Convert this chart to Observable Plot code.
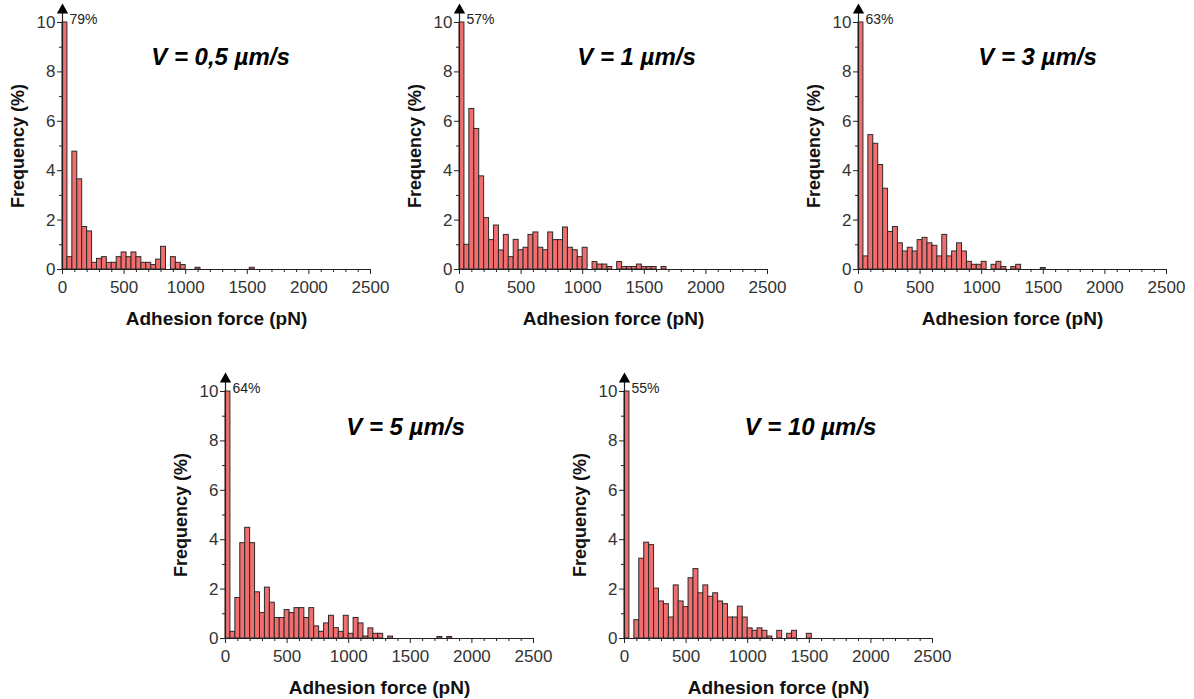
<!DOCTYPE html>
<html>
<head>
<meta charset="utf-8">
<script src="https://cdn.jsdelivr.net/npm/d3@7"></script>
<script src="https://cdn.jsdelivr.net/npm/@observablehq/plot@0.6"></script>
<style>
  html, body { margin: 0; padding: 0; background: #fff; }
  #chart { position: relative; width: 1194px; height: 699px; background: #fff; font-family: "Liberation Sans", Arial, sans-serif; }
  #chart svg { position: absolute; overflow: visible; }
</style>
</head>
<body>
<div id="chart"></div>
<script>
// ---- data: frequency (%) per 40 pN bin, starting at 0 pN ----
const binWidth = 40;
const speeds = ["0,5", "1", "3", "5", "10"];
const freqV05 = [79, 0.5, 4.77, 3.65, 1.72, 1.54, 0.27, 0.43, 0.5, 0.27, 0.27, 0.5, 0.69, 0.5, 0.69, 0.5, 0.27, 0.27, 0.18, 0.4, 0.92, 0, 0.5, 0.27, 0.18, 0, 0, 0.07, 0, 0, 0, 0, 0, 0, 0, 0, 0, 0, 0.07];
const freqV1 = [57, 1.0, 6.5, 5.69, 3.77, 2.08, 1.19, 1.78, 0.77, 1.4, 0.5, 1.2, 0.78, 0.88, 1.4, 1.5, 0.88, 0.78, 1.5, 1.19, 1.19, 1.7, 0.88, 0.78, 0.5, 0.88, 0, 0.3, 0.2, 0.2, 0.1, 0, 0.3, 0.1, 0.1, 0.1, 0.2, 0.1, 0.1, 0.1, 0, 0.1];
const freqV3 = [63, 0.53, 5.44, 5.09, 4.23, 3.27, 1.52, 1.72, 1.06, 0.73, 0.88, 0.73, 1.19, 1.28, 1.06, 0.96, 0.53, 1.4, 0.53, 0.73, 1.06, 0.73, 0.31, 0.19, 0.19, 0.31, 0, 0.19, 0.31, 0.1, 0, 0.1, 0.19, 0, 0, 0, 0, 0.06];
const freqV5 = [64, 0.27, 1.64, 3.86, 4.48, 3.86, 1.87, 1.03, 2.06, 1.45, 0.83, 0.83, 1.15, 1.03, 1.23, 1.23, 0.83, 1.23, 0.49, 0.27, 0.61, 0.92, 0.42, 0.27, 0.92, 0.19, 0.83, 0.61, 0.08, 0.41, 0.19, 0.19, 0, 0.08, 0, 0, 0, 0, 0, 0, 0, 0, 0, 0.06, 0, 0.06];
const freqV10 = [55, 0, 0.74, 3.23, 3.88, 3.78, 2.02, 1.5, 1.39, 0.85, 2.15, 1.5, 1.27, 2.44, 2.81, 1.83, 2.15, 1.69, 1.83, 1.5, 1.39, 0.85, 0.85, 1.29, 0.85, 0.41, 0.31, 0.41, 0.31, 0.08, 0, 0.31, 0, 0.19, 0.31, 0, 0, 0.19];
const xTicksMajor = [0, 500, 1000, 1500, 2000, 2500];
const yTicksMajor = [0, 2, 4, 6, 8, 10];
const xLabel = "Adhesion force (pN)";
const yLabel = "Frequency (%)";

// ---- layout ----
const yMax = 10;
const panels = [
  {speed: speeds[0], freq: freqV05, left: 0,   top: 0,   tdx: 158, tdy: 35},
  {speed: speeds[1], freq: freqV1,  left: 397, top: 0,   tdx: 177, tdy: 35},
  {speed: speeds[2], freq: freqV3,  left: 796, top: 0,   tdx: 179, tdy: 35},
  {speed: speeds[3], freq: freqV5,  left: 163, top: 369, tdx: 180, tdy: 36},
  {speed: speeds[4], freq: freqV10, left: 562, top: 369, tdx: 186, tdy: 36}
];

const chart = document.getElementById("chart");
const fmt = d => String(d);
for (const p of panels) {
  const bins = p.freq.map((f, i) => ({lo: i * binWidth, hi: (i + 1) * binWidth, f}));
  const first = bins[0];
  const svg = Plot.plot({
    width: 390,
    height: 330,
    marginLeft: 62,
    marginRight: 20,
    marginTop: 22,
    marginBottom: 61,
    style: {fontFamily: "'Liberation Sans', Arial, sans-serif", fontSize: "17px", color: "#222", background: "transparent"},
    x: {domain: [0, 2500]},
    y: {domain: [0, yMax]},
    marks: [
      Plot.rectY(bins.filter(d => d.f > 0), {
        x1: "lo", x2: "hi", y: d => Math.min(d.f, yMax),
        fill: "#f26e6e", stroke: "#2a2a2a", strokeWidth: 1
      }),
      // axes lines
      Plot.ruleY([0], {stroke: "#222", strokeWidth: 1.2}),
      Plot.ruleX([0], {y1: 0, y2: 10.45, stroke: "#222", strokeWidth: 1.2}),
      Plot.dot([0], {x: d => d, y: () => 10.5, symbol: "triangle", r: 4.2, fill: "#000", stroke: "none"}),
      // x axis ticks
      Plot.axisX(xTicksMajor, {tickSize: 5, tickPadding: 6, label: null, stroke: "#222", fontSize: 17, tickFormat: fmt, fill: "#333"}),
      Plot.axisX(d3.range(100, 2500, 100).filter(v => v % 500 !== 0), {tickSize: 3, text: null, label: null, stroke: "#222"}),
      // y axis ticks
      Plot.axisY(yTicksMajor, {tickSize: 5, tickPadding: 2, label: null, stroke: "#222", fontSize: 17, tickFormat: fmt, fill: "#333"}),
      Plot.axisY(d3.range(1, 10, 2), {tickSize: 3, text: null, label: null, stroke: "#222"}),
      // labels
      Plot.text([xLabel], {frameAnchor: "bottom", dy: 49, lineAnchor: "middle", fontWeight: "bold", fontSize: 19, fill: "#111"}),
      Plot.text([yLabel], {frameAnchor: "left", dx: -44, rotate: -90, lineAnchor: "middle", textAnchor: "middle", fontWeight: "bold", fontSize: 18, fill: "#111"}),
      Plot.text([`V = ${p.speed} \u00b5m/s`], {frameAnchor: "top-left", dx: p.tdx, dy: p.tdy, textAnchor: "middle", lineAnchor: "middle", fontWeight: "bold", fontStyle: "italic", fontSize: 24, fill: "#000"}),
      Plot.text([first], {x: "lo", y: () => yMax, text: d => `${d.f}%`, dx: 7, dy: -3, textAnchor: "start", lineAnchor: "middle", fontSize: 14, fill: "#222"})
    ]
  });
  svg.style.left = p.left + "px";
  svg.style.top = p.top + "px";
  chart.appendChild(svg);
}
</script>
</body>
</html>
